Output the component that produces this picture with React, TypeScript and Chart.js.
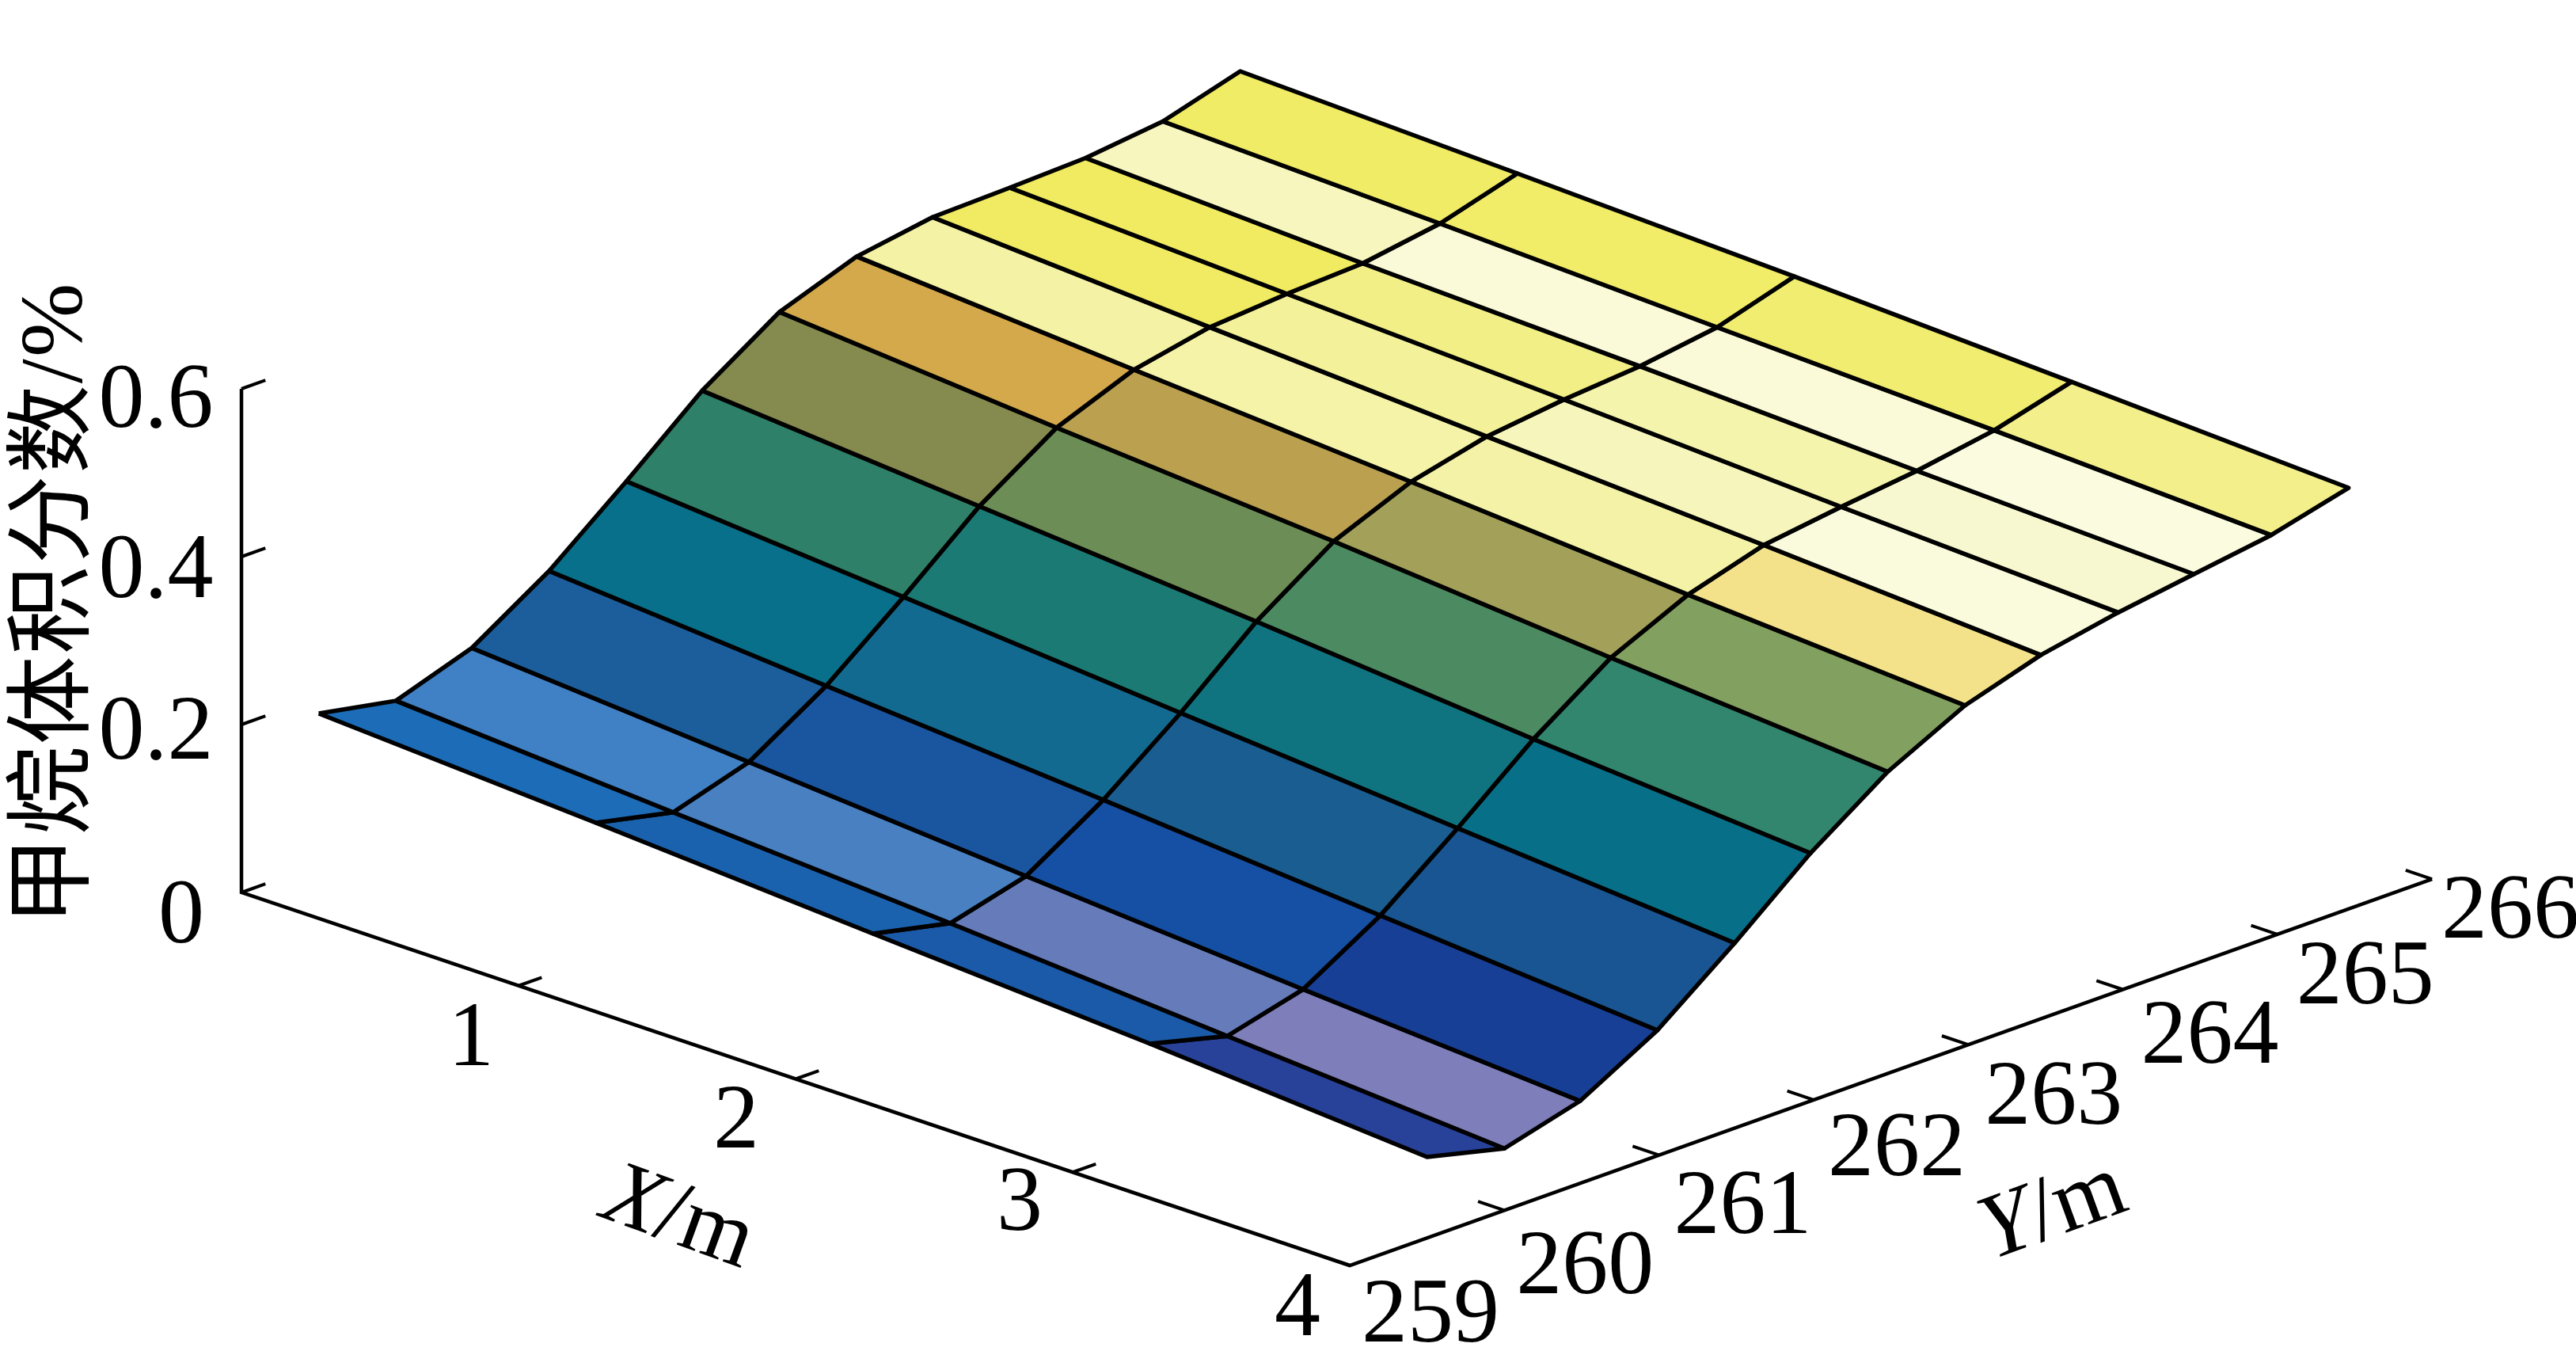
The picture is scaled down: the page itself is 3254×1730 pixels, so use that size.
import React, { useEffect, useRef } from "react";
import { Chart, registerables } from "chart.js";

Chart.register(...registerables);

// ---------- data ----------
const xGrid = [0, 1, 2, 3, 4];
const yGrid = [259.5, 260, 260.49, 260.99, 261.49, 261.98, 262.48, 262.98, 263.47, 263.97, 264.46, 264.96, 265.46];

const methaneAtX0 = [0.1803, 0.1627, 0.1933, 0.2522, 0.3261, 0.4019, 0.4627, 0.496, 0.5106, 0.5128, 0.516, 0.5267, 0.5535];
const methaneAtX1 = [0.1612, 0.1408, 0.1685, 0.2265, 0.2995, 0.3753, 0.436, 0.4722, 0.4906, 0.4975, 0.5016, 0.5161, 0.5429];
const methaneAtX2 = [0.1402, 0.1198, 0.1437, 0.2017, 0.2724, 0.3491, 0.4117, 0.4498, 0.4715, 0.4826, 0.4901, 0.5036, 0.5313];
const methaneAtX3 = [0.1202, 0.0965, 0.1199, 0.1751, 0.2462, 0.3201, 0.3841, 0.4264, 0.4533, 0.4659, 0.4766, 0.492, 0.5169];
const methaneAtX4 = [0.0964, 0.0736, 0.098, 0.1494, 0.2205, 0.2953, 0.3594, 0.4055, 0.4333, 0.4511, 0.4646, 0.4782, 0.5016];
const methane = [methaneAtX0, methaneAtX1, methaneAtX2, methaneAtX3, methaneAtX4];

const xTicks = [1, 2, 3, 4];
const yTicks = [259, 260, 261, 262, 263, 264, 265, 266];
const zTicks = [0, 0.2, 0.4, 0.6];
const zTickText = ["0", "0.2", "0.4", "0.6"];
const xTitle = ["X", "/m"];
const yTitle = ["Y", "/m"];
const zTitle = "甲烷体积分数/%";

// ---------- styles ----------
const stripColours = [
  ["#1c6cb8", "#1b62ae", "#1a5aa8", "#28429a"],
  ["#4080c4", "#4880c2", "#667cba", "#7e7eba"],
  ["#1c5e9c", "#1a55a0", "#1650a4", "#183f96"],
  ["#08708a", "#136a90", "#1a5d90", "#185592"],
  ["#2e8068", "#1c7a74", "#107480", "#086f88"],
  ["#858b4e", "#6c8e56", "#4c8a62", "#32866e"],
  ["#d4a94c", "#baa04f", "#a2a059", "#82a05f"],
  ["#f4f2a4", "#f5f3a8", "#f3f2a6", "#f3e28a"],
  ["#f0eb62", "#f3f29a", "#f6f5bc", "#fafadc"],
  ["#f0eb60", "#f1ef85", "#f5f4ac", "#f8f8d0"],
  ["#f7f6be", "#fafad8", "#fafad8", "#fbfbe0"],
  ["#f1ec66", "#f1ed68", "#f1ed70", "#f3f08c"],
];

const WIDTH = 3254;
const HEIGHT = 1730;
const view = {
  ox: 305, oy: 1127,
  xdx: 350, xdy: 117.75,
  ydx: 195.3, ydy: -69.7,
  zdy: -1060,
};
const project = (X: number, Y: number, Z: number) => ({
  x: view.ox + view.xdx * X + view.ydx * (Y - 259),
  y: view.oy + view.xdy * X + view.ydy * (Y - 259) + view.zdy * Z,
});

const FONT = '"Liberation Serif"';
const labelDrop = 8;
const zLabelOffsets = [[-76, 25], [-108, 5], [-108, 13], [-108, 9.5]];
const xLabelOffsets = [[-60, 62], [-75, 48], [-67, 34], [-66, 50]];
const yLabelOffsets = [[102, 58], [102, 66], [106, 60], [105, 57], [108, 61], [110, 54], [111, 49], [99, 35]];

const line = (points: { x: number; y: number }[], width: number) => ({
  data: points,
  borderColor: "#000",
  borderWidth: width,
  pointRadius: 0,
  fill: false,
  tension: 0,
  borderJoinStyle: "miter" as const,
  borderCapStyle: "butt" as const,
});

function buildDatasets() {
  const sets: any[] = [];
  for (let r = yGrid.length - 2; r >= 0; r--) {
    for (let c = 0; c < xGrid.length - 1; c++) {
      const a = project(xGrid[c], yGrid[r], methane[c][r]);
      const b = project(xGrid[c + 1], yGrid[r], methane[c + 1][r]);
      const d = project(xGrid[c + 1], yGrid[r + 1], methane[c + 1][r + 1]);
      const e = project(xGrid[c], yGrid[r + 1], methane[c][r + 1]);
      sets.push({
        data: [a, b, d, e, a],
        borderColor: "#000",
        borderWidth: 5.5,
        backgroundColor: stripColours[r][c],
        fill: "shape",
        pointRadius: 0,
        tension: 0,
        borderJoinStyle: "round",
      });
    }
  }
  sets.push(line([project(0, 259, 0.6), project(0, 259, 0), project(4, 259, 0), project(4, 266, 0)], 4.5));
  zTicks.forEach((z) => sets.push(line([project(0, 259, z), project(0, 259.155, z)], 4)));
  xTicks.slice(0, 3).forEach((x) => sets.push(line([project(x, 259, 0), project(x, 259.15, 0)], 4)));
  yTicks.forEach((y) => sets.push(line([project(4, y, 0), project(3.905, y, 0)], 4)));
  return sets;
}

const axisText = {
  id: "axisText",
  afterDraw(chart: any) {
    const { ctx, scales } = chart;
    const px = (p: { x: number; y: number }) => [scales.x.getPixelForValue(p.x), scales.y.getPixelForValue(p.y)];
    ctx.save();
    ctx.fillStyle = "#000";
    ctx.textAlign = "center";
    ctx.textBaseline = "middle";
    ctx.font = `116px ${FONT}`;
    zTicks.forEach((z, i) => {
      const [x, y] = px(project(0, 259, z));
      ctx.fillText(zTickText[i], x + zLabelOffsets[i][0], y + zLabelOffsets[i][1] + labelDrop);
    });
    xTicks.forEach((v, i) => {
      const [x, y] = px(project(v, 259, 0));
      ctx.fillText(String(v), x + xLabelOffsets[i][0], y + xLabelOffsets[i][1] + labelDrop);
    });
    yTicks.forEach((v, i) => {
      const [x, y] = px(project(4, v, 0));
      ctx.fillText(String(v), x + yLabelOffsets[i][0], y + yLabelOffsets[i][1] + labelDrop);
    });

    const title = (parts: string[], cx: number, cy: number, deg: number, size: number) => {
      ctx.save();
      ctx.translate(cx, cy);
      ctx.rotate((deg * Math.PI) / 180);
      ctx.textAlign = "left";
      ctx.font = `italic ${size}px ${FONT}`;
      const w0 = ctx.measureText(parts[0]).width;
      ctx.font = `${size}px ${FONT}`;
      const w1 = ctx.measureText(parts[1]).width;
      const start = -(w0 + w1) / 2;
      ctx.font = `italic ${size}px ${FONT}`;
      ctx.fillText(parts[0], start, 0);
      ctx.font = `${size}px ${FONT}`;
      ctx.fillText(parts[1], start + w0, 0);
      ctx.restore();
    };
    title(xTitle, 857, 1540, 20, 116);
    title(yTitle, 2594, 1530, -20, 116);

    ctx.save();
    ctx.translate(74, 762);
    ctx.rotate(-Math.PI / 2);
    ctx.textAlign = "center";
    ctx.font = `112px ${FONT}, "Noto Sans CJK SC"`;
    (ctx as any).letterSpacing = "2px";
    ctx.fillText(zTitle, 0, 0);
    ctx.restore();
    ctx.restore();
  },
};

export default function App() {
  const ref = useRef<HTMLCanvasElement>(null);
  useEffect(() => {
    document.body.style.margin = "0";
    document.body.style.background = "#fff";
    const chart = new Chart(ref.current as HTMLCanvasElement, {
      type: "line",
      data: { datasets: buildDatasets() },
      options: {
        animation: false,
        responsive: false,
        devicePixelRatio: 1,
        layout: { padding: 0 },
        plugins: { legend: { display: false }, tooltip: { enabled: false } },
        scales: {
          x: { type: "linear", min: 0, max: WIDTH, display: false },
          y: { type: "linear", min: 0, max: HEIGHT, reverse: true, display: false },
        },
      },
      plugins: [axisText],
    } as any);
    return () => chart.destroy();
  }, []);
  return <canvas ref={ref} width={WIDTH} height={HEIGHT} style={{ display: "block" }} />;
}
